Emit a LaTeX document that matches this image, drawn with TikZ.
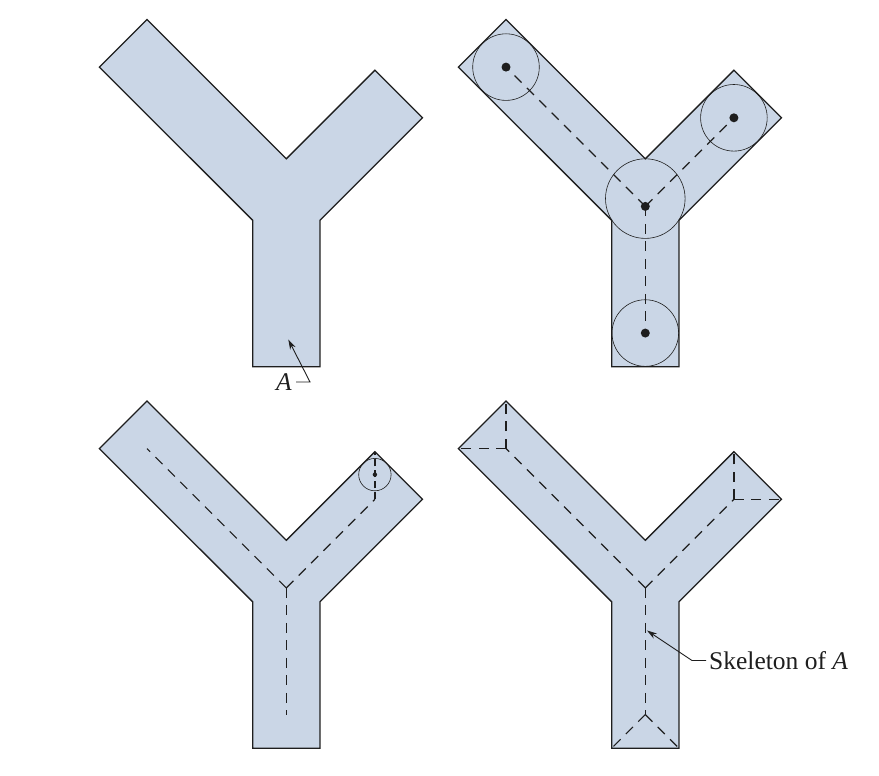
\documentclass[tikz,border=0pt]{standalone}
\usepackage{fontspec}
\setmainfont{Liberation Serif}
\usetikzlibrary{arrows.meta}
\definecolor{shapefill}{RGB}{202,214,230}
\definecolor{ink}{RGB}{30,30,30}
\tikzset{
  yshape/.style={fill=shapefill,draw=ink,line width=1.3pt,line join=miter},
  skel/.style={draw=ink,line width=1.2pt,dash pattern=on 10pt off 7.5pt},
  disk/.style={draw=ink,line width=0.6pt},
  dotc/.style={fill=ink},
  leader/.style={draw=ink,line width=0.9pt,-{Stealth[length=10pt,width=6pt]}},
  lbl/.style={font=\fontsize{25.5}{30}\selectfont,inner sep=0pt,text=ink},
  yfig/.pic={
    \path[yshape] (99.4,67.1) -- (147,19.5) -- (286.3,158.8) -- (374.9,70.2)
      -- (422.5,117.8) -- (319.95,220.3) -- (319.95,366.7) -- (252.65,366.7)
      -- (252.65,220.3) -- cycle;
  }
}
\begin{document}
\begin{tikzpicture}[x=1pt,y=-1pt]
\useasboundingbox (0,0) rectangle (879,776);

% four copies of the shape A
\pic at (0,0) {yfig};
\pic at (359,0) {yfig};
\pic at (0,381.5) {yfig};
\pic at (359,381.5) {yfig};

% panel 1 label
\node[lbl] (Alab) at (284,382) {\textit{A}};
\coordinate (Astart) at (296,382);
\coordinate (Aknee) at (310,382);
\coordinate (Atip) at (288.3,339.5);
\draw[leader] (Astart) -- (Aknee) -- (Atip);

% panel 2: maximal disks
\begin{scope}[shift={(359,0)}]
  \coordinate (J2) at (286.3,206.4);
  \coordinate (M2) at (286.3,198.6);
  \coordinate (L2) at (147,67.1);
  \coordinate (R2) at (374.9,117.8);
  \coordinate (S2) at (286.3,333.05);
  \draw[skel] (J2) -- (L2);
  \draw[skel] (J2) -- (R2);
  \draw[skel] (J2) -- (S2);
  \draw[disk] (M2) circle[radius=39.8];
  \draw[disk] (L2) circle[radius=33.3];
  \draw[disk] (R2) circle[radius=33.3];
  \draw[disk] (S2) circle[radius=33.3];
  \fill[dotc] (J2) circle[radius=4.5];
  \fill[dotc] (L2) circle[radius=4.5];
  \fill[dotc] (R2) circle[radius=4.5];
  \fill[dotc] (S2) circle[radius=4.5];
\end{scope}

% panel 3: skeleton and corner disk
\begin{scope}[shift={(0,381.5)}]
  \coordinate (J3) at (286.3,206.4);
  \coordinate (L3) at (147,67.1);
  \coordinate (R3) at (374.9,117.8);
  \coordinate (S3) at (286.3,333.05);
  \coordinate (C3) at (374.9,70.2);
  \coordinate (K3) at (374.9,93.1);
  \draw[skel] (J3) -- (L3);
  \draw[skel] (J3) -- (R3);
  \draw[skel] (J3) -- (S3);
  \draw[skel,dash pattern=on 7pt off 4pt] (R3) -- (C3);
  \draw[disk] (K3) circle[radius=16.2];
  \fill[dotc] (K3) circle[radius=2.2];
\end{scope}

% panel 4: full skeleton
\begin{scope}[shift={(359,381.5)}]
  \coordinate (J4) at (286.3,206.4);
  \coordinate (L4) at (147,67.1);
  \coordinate (R4) at (374.9,117.8);
  \coordinate (S4) at (286.3,333.05);
  \coordinate (a4) at (99.4,67.1);
  \coordinate (b4) at (147,19.5);
  \coordinate (c4) at (374.9,70.2);
  \coordinate (d4) at (422.5,117.8);
  \coordinate (f4) at (319.95,366.7);
  \coordinate (g4) at (252.65,366.7);
  \draw[skel] (J4) -- (L4);
  \draw[skel] (J4) -- (R4);
  \draw[skel] (J4) -- (S4);
  \draw[skel] (L4) -- (a4);
  \draw[skel] (L4) -- (b4);
  \draw[skel] (R4) -- (c4);
  \draw[skel] (R4) -- (d4);
  \draw[skel] (S4) -- (f4);
  \draw[skel] (S4) -- (g4);
\end{scope}

% panel 4 label
\node[lbl,anchor=base west] (Slab) at (709,669.3) {Skeleton of \textit{A}};
\coordinate (Sstart) at (706,660.5);
\coordinate (Sknee) at (692,660.5);
\coordinate (Stip) at (647,630.5);
\draw[leader] (Sstart) -- (Sknee) -- (Stip);
\end{tikzpicture}
\end{document}
